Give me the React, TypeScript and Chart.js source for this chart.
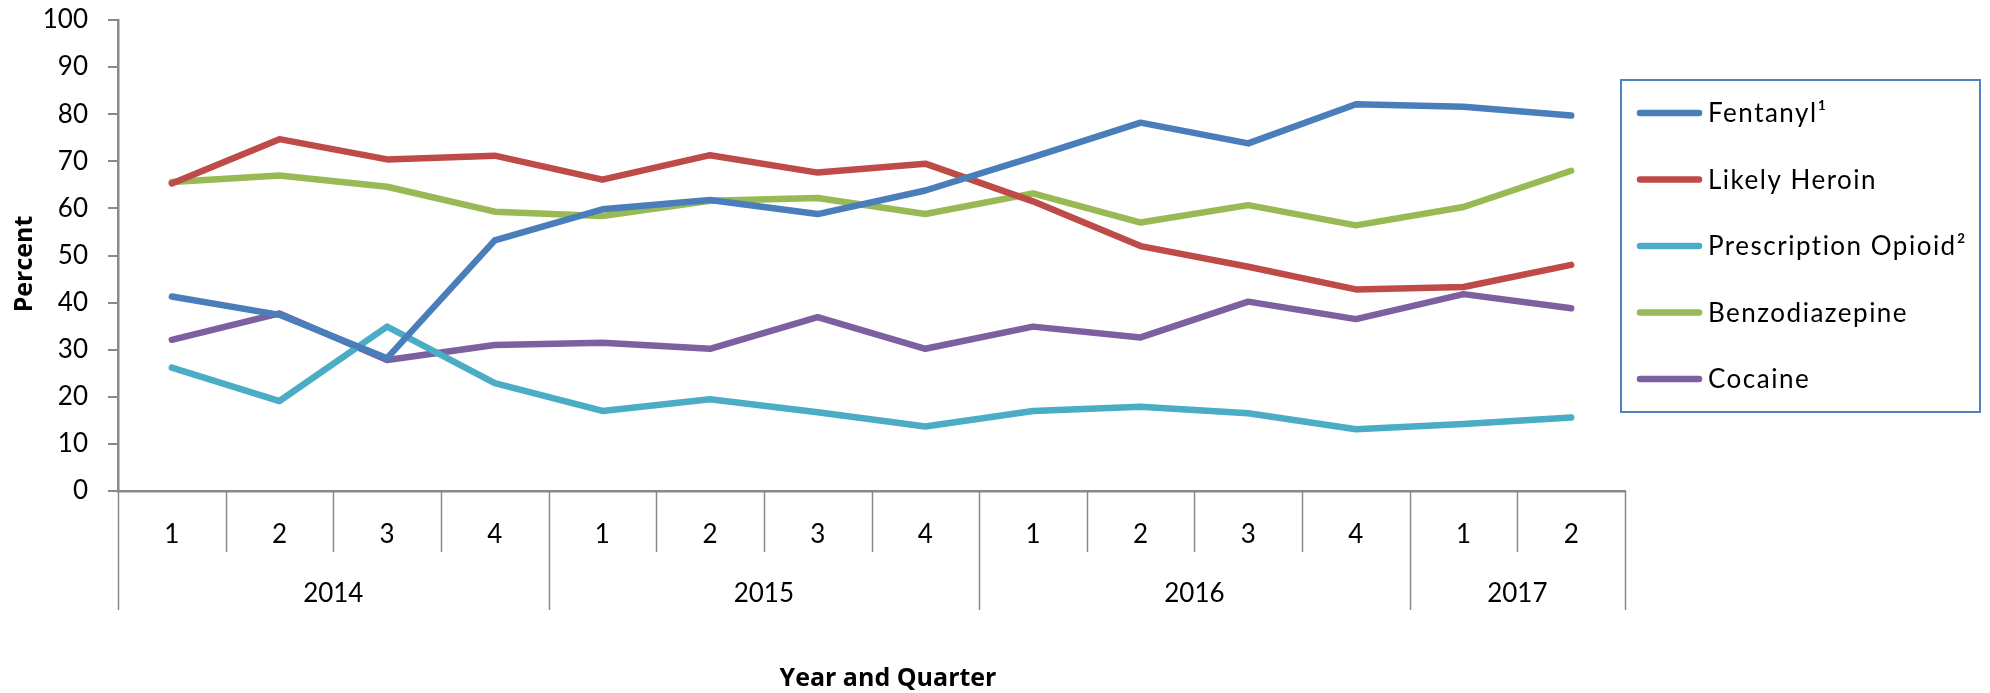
import React, { useEffect, useRef } from 'react';
import { Chart, registerables } from 'chart.js';

Chart.register(...registerables);

const quarters = ['1', '2', '3', '4', '1', '2', '3', '4', '1', '2', '3', '4', '1', '2'];
const years = ['2014', '2015', '2016', '2017'];
const yearSpans = [4, 4, 4, 2];
const seriesNames = ['Fentanyl¹', 'Likely Heroin', 'Prescription Opioid²', 'Benzodiazepine', 'Cocaine'];
const fentanyl = [41.3, 37.4, 28.2, 53.2, 59.8, 61.8, 58.8, 63.8, 70.9, 78.2, 73.8, 82.1, 81.6, 79.7];
const heroin = [65.3, 74.7, 70.4, 71.2, 66.1, 71.3, 67.6, 69.5, 61.5, 52.0, 47.6, 42.8, 43.3, 48.0];
const prescription = [26.2, 19.1, 34.9, 22.9, 17.0, 19.5, 16.7, 13.7, 17.0, 17.9, 16.5, 13.1, 14.2, 15.6];
const benzodiazepine = [65.6, 67.0, 64.6, 59.3, 58.4, 61.6, 62.2, 58.8, 63.2, 57.0, 60.7, 56.4, 60.3, 68.0];
const cocaine = [32.1, 37.7, 27.8, 31.0, 31.5, 30.2, 36.9, 30.2, 34.9, 32.6, 40.2, 36.5, 41.8, 38.8];
const seriesValues = [fentanyl, heroin, prescription, benzodiazepine, cocaine];
const seriesColors = ['#4A7EBB', '#BE4B48', '#4BACC6', '#98B954', '#7D60A0'];
const xTitle = 'Year and Quarter';
const yTitle = 'Percent';

const FONT = 'Lato';
const TITLE_FONT = '"Open Sans"';
const AXIS_GRAY = '#898989';

const decorPlugin = {
  id: 'decor',
  afterDraw(chart: any) {
    const ctx = chart.ctx;
    const x = chart.scales.x;
    const top = chart.chartArea.bottom;
    ctx.save();
    // category dividers
    const yearBounds = new Set<number>();
    let acc = 0;
    yearBounds.add(0);
    yearSpans.forEach((s) => { acc += s; yearBounds.add(acc); });
    ctx.strokeStyle = AXIS_GRAY;
    ctx.lineWidth = 1.5;
    for (let i = 0; i <= quarters.length; i++) {
      const px = Math.round(x.getPixelForValue(i - 0.5)) + 0.5;
      const bottom = yearBounds.has(i) ? 610 : 552;
      ctx.beginPath();
      ctx.moveTo(px, top);
      ctx.lineTo(px, bottom);
      ctx.stroke();
    }
    // year labels
    ctx.fillStyle = '#000';
    ctx.font = `26px ${FONT}`;
    ctx.textAlign = 'center';
    ctx.textBaseline = 'middle';
    let start = 0;
    years.forEach((yr, k) => {
      const end = start + yearSpans[k];
      const a = x.getPixelForValue(start - 0.5);
      const b = x.getPixelForValue(end - 0.5);
      ctx.fillText(yr, (a + b) / 2, 594);
      start = end;
    });
    // axis titles
    ctx.font = `bold 25px ${TITLE_FONT}`;
    ctx.fillText(xTitle, 888, 679);
    ctx.save();
    ctx.translate(25, 264);
    ctx.rotate(-Math.PI / 2);
    ctx.fillText(yTitle, 0, 0);
    ctx.restore();
    // legend
    const lx = 1621, ly = 80, lw = 359, lh = 332;
    ctx.strokeStyle = '#4F81BD';
    ctx.lineWidth = 2;
    ctx.strokeRect(lx, ly, lw, lh);
    ctx.textAlign = 'left';
    ctx.font = `26px ${FONT}`;
    try { (ctx as any).letterSpacing = '1.5px'; } catch (e) { /* ignore */ }
    chart.data.datasets.forEach((ds: any, k: number) => {
      const cy = 113 + k * 66.5;
      ctx.strokeStyle = ds.borderColor;
      ctx.lineWidth = 6.5;
      ctx.lineCap = 'round';
      ctx.beginPath();
      ctx.moveTo(1640, cy);
      ctx.lineTo(1699, cy);
      ctx.stroke();
      ctx.fillStyle = '#000';
      ctx.fillText(ds.label, 1708, cy + 1);
    });
    try { (ctx as any).letterSpacing = '0px'; } catch (e) { /* ignore */ }
    ctx.restore();
  },
};

export default function App() {
  const ref = useRef<HTMLCanvasElement | null>(null);
  useEffect(() => {
    document.body.style.margin = '0';
    const canvas = ref.current!;
    const chart = new Chart(canvas, {
      type: 'line',
      data: {
        labels: quarters,
        datasets: seriesNames.map((name, k) => ({
          label: name,
          data: seriesValues[k],
          borderColor: seriesColors[k],
          backgroundColor: seriesColors[k],
          borderWidth: 6.5,
          pointRadius: 0,
          borderCapStyle: 'round',
          borderJoinStyle: 'round',
          tension: 0,
          fill: false,
        })),
      },
      options: {
        animation: false,
        responsive: false,
        devicePixelRatio: 1,
        layout: { padding: { top: 20, right: 365, left: 0, bottom: 0 } },
        plugins: {
          legend: { display: false },
          tooltip: { enabled: false },
        },
        scales: {
          x: {
            type: 'category',
            offset: true,
            grid: { display: true, drawOnChartArea: false, drawTicks: false },
            border: { display: true, color: AXIS_GRAY, width: 2.5 },
            ticks: { color: '#000', font: { family: FONT, size: 26 }, padding: 28, maxRotation: 0, autoSkip: false },
            afterFit: (s: any) => { s.height = 202; s.paddingLeft = 0; s.paddingRight = 0; },
          },
          y: {
            min: 0,
            max: 100,
            ticks: { stepSize: 10, color: '#000', font: { family: FONT, size: 26 }, padding: 20 },
            grid: { display: true, drawOnChartArea: false, drawTicks: true, tickLength: 10, color: AXIS_GRAY, lineWidth: 2 },
            border: { display: true, color: AXIS_GRAY, width: 2.5 },
            afterFit: (s: any) => { s.width = 118; s.paddingTop = 0; s.paddingBottom = 0; },
          },
        },
      },
      plugins: [decorPlugin],
    } as any);
    return () => chart.destroy();
  }, []);
  return (
    <div style={{ width: 1990, height: 693 }}>
      <canvas ref={ref} width={1990} height={693} style={{ display: 'block' }} />
    </div>
  );
}
